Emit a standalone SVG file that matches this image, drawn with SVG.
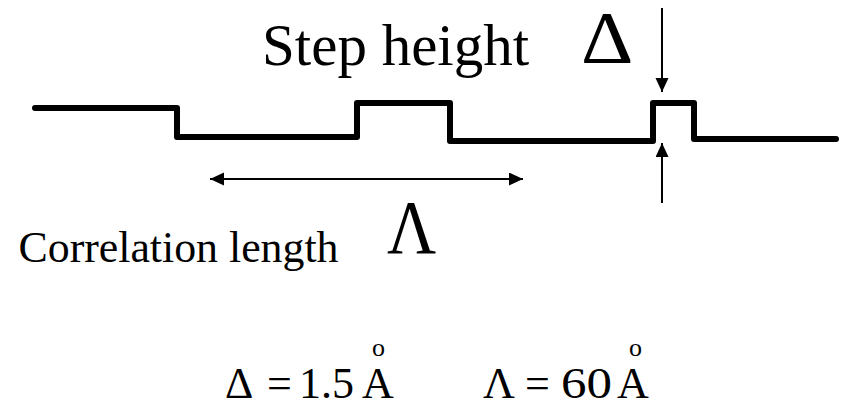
<svg xmlns="http://www.w3.org/2000/svg" width="843" height="404" viewBox="0 0 843 404">
  <style>
    .t { font-family: 'Liberation Serif', 'Times New Roman', Times, serif; fill: #000; }
    .profile { fill: none; stroke: #000; stroke-width: 6; stroke-linejoin: round; stroke-linecap: round; }
    .arr { fill: none; stroke: #000; stroke-width: 2; }
  </style>
  <defs>
    <marker id="ah" markerUnits="userSpaceOnUse" markerWidth="15" markerHeight="14" refX="14" refY="6.5" orient="auto-start-reverse">
      <path d="M0,0 L14,6.5 L0,13 z" fill="#000"/>
    </marker>
  </defs>
  <rect width="843" height="404" fill="#fff"/>

  <g id="profile">
    <path class="profile" d="M35,108 L177,108 L177,137 L357,137 L357,103 L450,103 L450,141 L653,141 L653,103 L694,103 L694,139 L836,139"/>
  </g>

  <g id="connectors">
    <line class="arr" x1="662" y1="8" x2="662" y2="92" marker-end="url(#ah)"/>
    <line class="arr" x1="662" y1="203" x2="662" y2="143" marker-end="url(#ah)"/>
    <line class="arr" x1="210" y1="179" x2="523" y2="179" stroke-width="2.5" marker-start="url(#ah)" marker-end="url(#ah)"/>
  </g>

  <g id="label-step">
    <text class="t" x="262" y="65" font-size="59">Step height</text>
    <text class="t" font-size="74" transform="translate(581,63) scale(1.1,1)">Δ</text>
  </g>

  <g id="label-correlation">
    <text class="t" x="18.5" y="262" font-size="44" textLength="320" lengthAdjust="spacingAndGlyphs">Correlation length</text>
    <text class="t" font-size="70" transform="translate(387,253) scale(0.97,1.1)">Λ</text>
  </g>

  <g id="equation-delta">
    <text class="t" x="225" y="398" font-size="44">Δ</text>
    <text class="t" x="267" y="398" font-size="44">=</text>
    <text class="t" x="299" y="398" font-size="44" textLength="55" lengthAdjust="spacingAndGlyphs">1.5</text>
    <text class="t" x="362" y="398" font-size="44">A</text>
    <text class="t" x="372" y="356" font-size="26">o</text>
  </g>

  <g id="equation-lambda">
    <text class="t" x="483" y="398" font-size="44">Λ</text>
    <text class="t" x="525" y="398" font-size="44">=</text>
    <text class="t" x="561" y="398" font-size="44" textLength="51" lengthAdjust="spacingAndGlyphs">60</text>
    <text class="t" x="617" y="398" font-size="44">A</text>
    <text class="t" x="629" y="356" font-size="26">o</text>
  </g>
</svg>
